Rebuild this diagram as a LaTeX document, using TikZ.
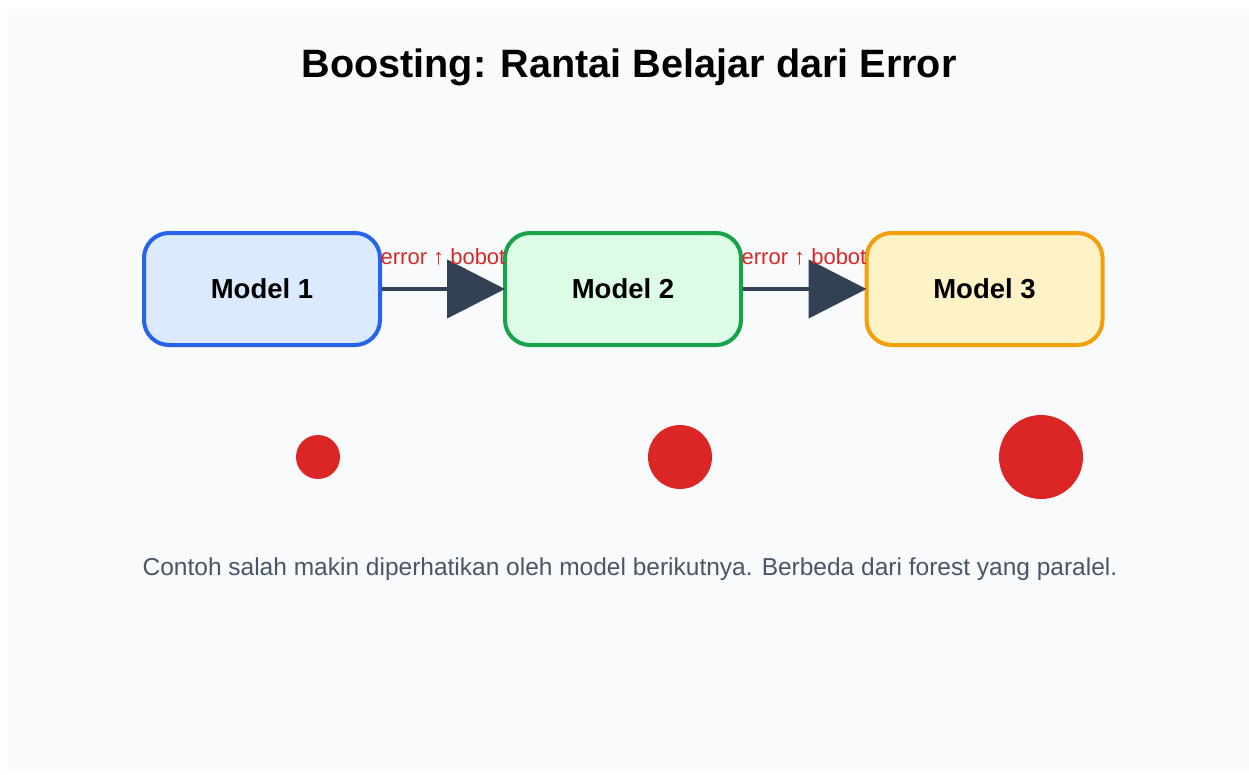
\documentclass[tikz,border=0pt]{standalone}
\usepackage{fontspec}
\setmainfont{Liberation Sans}
\usetikzlibrary{arrows.meta}
\definecolor{bg}{HTML}{F8FAFC}
\definecolor{ink}{HTML}{334155}
\definecolor{errred}{HTML}{DC2626}
\definecolor{note}{HTML}{4A5568}
\definecolor{blueline}{HTML}{2563EB}\definecolor{bluefill}{HTML}{DBEAFE}
\definecolor{greenline}{HTML}{16A34A}\definecolor{greenfill}{HTML}{DCFCE7}
\definecolor{orangeline}{HTML}{F59E0B}\definecolor{orangefill}{HTML}{FEF3C7}
\begin{document}
\begin{tikzpicture}[x=1pt,y=-1pt,
  modelbox/.style={draw, line width=4pt, rounded corners=25pt,
    minimum width=236pt, minimum height=112pt, inner sep=0pt,
    font=\fontsize{27.5}{32}\selectfont\bfseries},
  chain/.style={draw=ink, line width=4.5pt, shorten >=-2pt,
    -{Triangle[length=58pt,width=58pt]}, fill=ink},
  errlabel/.style={text=errred, font=\fontsize{22}{26}\selectfont, inner sep=0pt},
  dot/.style={circle, fill=errred, inner sep=0pt}]
\useasboundingbox (0,0) rectangle (1249,774);
\fill[white] (0,0) rectangle (1249,774);
\fill[bg] (7,9) rectangle (1249,772);

\node[font=\fontsize{39.6}{46}\selectfont\bfseries] (title) at (629,67) {Boosting: Rantai Belajar dari Error};

\node[modelbox, draw=blueline, fill=bluefill] (m1) at (262,289) {Model 1};
\node[modelbox, draw=greenline, fill=greenfill] (m2) at (623,289) {Model 2};
\node[modelbox, draw=orangeline, fill=orangefill] (m3) at (984.5,289) {Model 3};

\draw[chain] (m1) -- (m2);
\draw[chain] (m2) -- (m3);
\node[errlabel] (e1) at (443,257) {error ↑ bobot};
\node[errlabel] (e2) at (804,257) {error ↑ bobot};

\node[dot, minimum size=44pt] (d1) at (318,457) {};
\node[dot, minimum size=64pt] (d2) at (680,457) {};
\node[dot, minimum size=84pt] (d3) at (1041,457) {};

\node[text=note, font=\fontsize{24.5}{29}\selectfont] (caption) at (630,569)
  {Contoh salah makin diperhatikan oleh model berikutnya. Berbeda dari forest yang paralel.};
\end{tikzpicture}
\end{document}
